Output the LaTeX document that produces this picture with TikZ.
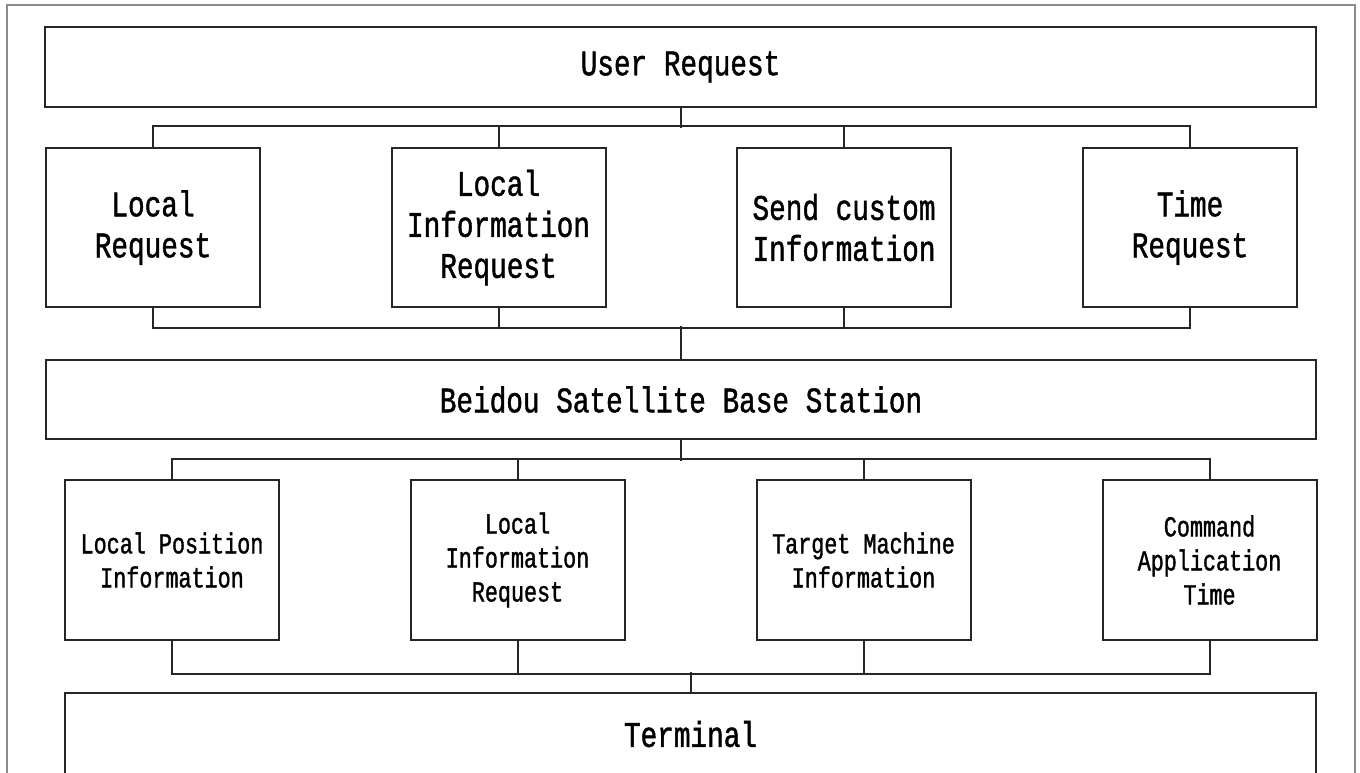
\documentclass[tikz,border=0pt]{standalone}
\usepackage{fontspec}
\newfontfamily\bigf[FakeStretch=0.77,FakeBold=1.2]{Liberation Mono}
\newfontfamily\smallf[FakeStretch=0.75,FakeBold=1.2]{Liberation Mono}
\tikzset{
  box/.style={draw=black!85, line width=2pt, rectangle, inner sep=0pt, align=center,
    font=\bigf\fontsize{36}{41}\selectfont},
  sbox/.style={box, minimum width=214pt, minimum height=160pt,
    font=\smallf\fontsize{29}{34}\selectfont},
  rbox/.style={box, minimum width=214pt, minimum height=159pt},
  conn/.style={draw=black!85, line width=2pt}
}
\begin{document}
\begin{tikzpicture}[x=1pt,y=-1pt]
\useasboundingbox (0,0) rectangle (1360,772);
\clip (0,0) rectangle (1360,772);
\fill[white] (0,0) rectangle (1360,772);
\draw[black!45, line width=1.5pt] (7,800) -- (7,5) -- (1355,5) -- (1355,800);

\node[box, minimum width=1271pt, minimum height=80pt] (ur) at (680.5,67) {\raisebox{-3pt}{User Request}};

\node[rbox] (r1a) at (153,227.5) {Local\\Request};
\node[rbox] (r1b) at (498.5,227.5) {Local\\Information\\Request};
\node[rbox] (r1c) at (844,227.5) {Send custom\\Information};
\node[rbox] (r1d) at (1190,227.5) {Time\\Request};

\node[box, minimum width=1270pt, minimum height=79pt] (bd) at (681,399.5) {\raisebox{-2pt}{Beidou Satellite Base Station}};

\node[sbox] (r2a) at (172,560) {Local Position\\Information};
\node[sbox] (r2b) at (517.5,560) {Local\\Information\\Request};
\node[sbox] (r2c) at (863.5,560) {Target Machine\\Information};
\node[sbox] (r2d) at (1209.5,560) {Command\\Application\\Time};

\node[box, minimum width=1251pt, minimum height=82pt] (term) at (690.5,734) {Terminal};

% user request to row 1
\draw[conn] (ur.south) -- ++(0,20);
\draw[conn] (r1a.north) -- ++(0,-21) -| (r1d.north);
\draw[conn] (r1b.north) -- ++(0,-21);
\draw[conn] (r1c.north) -- ++(0,-21);
% row 1 to beidou
\draw[conn] (r1a.south) -- ++(0,20) -| (r1d.south);
\draw[conn] (r1b.south) -- ++(0,20);
\draw[conn] (r1c.south) -- ++(0,20);
\draw[conn] (bd.north) -- ++(0,-33);
% beidou to row 2
\draw[conn] (bd.south) -- ++(0,21);
\draw[conn] (r2a.north) -- ++(0,-20) -| (r2d.north);
\draw[conn] (r2b.north) -- ++(0,-20);
\draw[conn] (r2c.north) -- ++(0,-20);
% row 2 to terminal
\draw[conn] (r2a.south) -- ++(0,33) -| (r2d.south);
\draw[conn] (r2b.south) -- ++(0,33);
\draw[conn] (r2c.south) -- ++(0,33);
\draw[conn] (term.north) -- ++(0,-20);
\end{tikzpicture}
\end{document}
